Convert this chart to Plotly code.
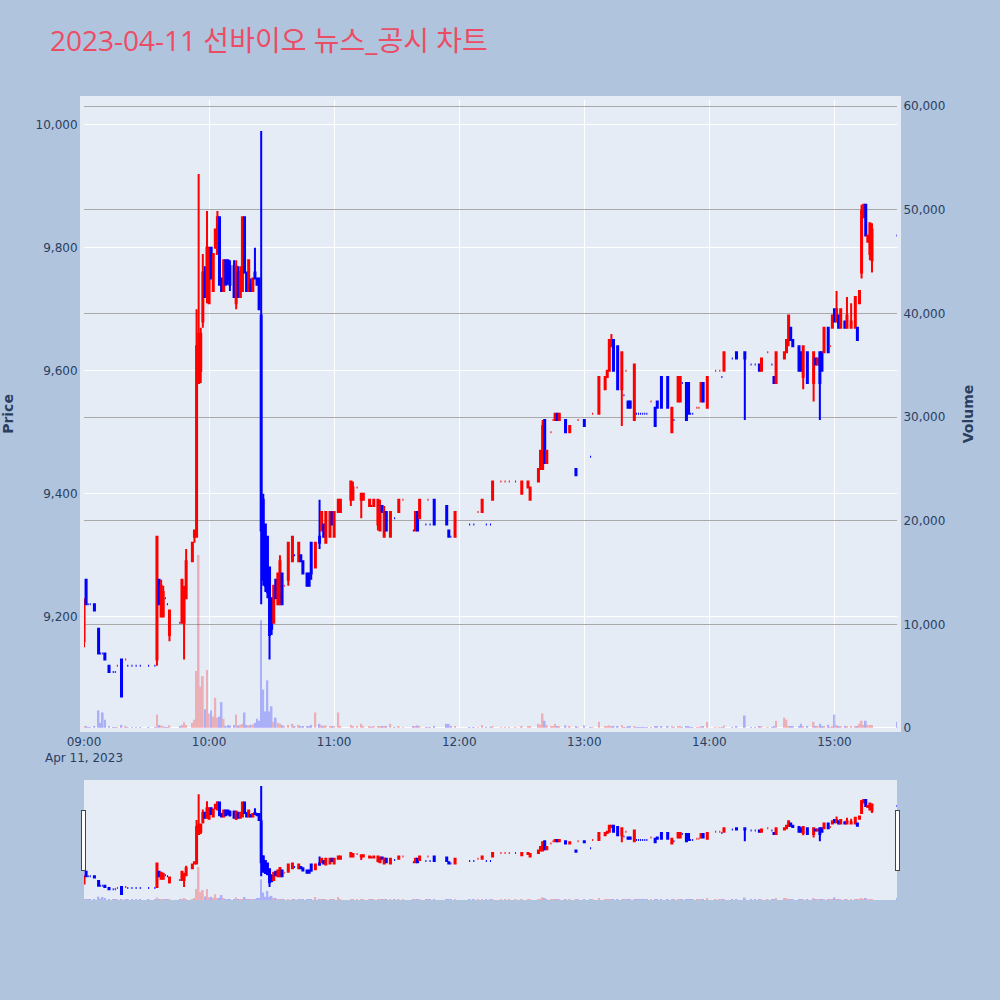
import plotly.graph_objects as go
from plotly.subplots import make_subplots

DATE = "2023-04-11"
TITLE = "2023-04-11 선바이오 뉴스_공시 차트"

times = [
    "09:00", "09:01", "09:02", "09:03", "09:05", "09:07", "09:08", "09:09", "09:10", "09:12",
    "09:14", "09:15", "09:16", "09:18", "09:20", "09:21", "09:23", "09:25", "09:27", "09:31",
    "09:34", "09:35", "09:36", "09:37", "09:38", "09:39", "09:40", "09:41", "09:46", "09:47",
    "09:48", "09:49", "09:52", "09:53", "09:54", "09:55", "09:56", "09:57", "09:58", "09:59",
    "10:00", "10:01", "10:02", "10:03", "10:04", "10:05", "10:06", "10:07", "10:08", "10:09",
    "10:10", "10:12", "10:13", "10:14", "10:15", "10:16", "10:17", "10:18", "10:19", "10:20",
    "10:21", "10:22", "10:23", "10:24", "10:25", "10:26", "10:27", "10:28", "10:29", "10:30",
    "10:31", "10:32", "10:33", "10:34", "10:35", "10:36", "10:38", "10:40", "10:41", "10:43",
    "10:44", "10:45", "10:47", "10:48", "10:49", "10:51", "10:53", "10:54", "10:55", "10:56",
    "10:58", "10:59", "11:00", "11:02", "11:03", "11:08", "11:09", "11:11", "11:13", "11:14",
    "11:17", "11:18", "11:19", "11:21", "11:22", "11:23", "11:24", "11:25", "11:27", "11:29",
    "11:31", "11:33", "11:38", "11:39", "11:40", "11:41", "11:44", "11:45", "11:46", "11:48",
    "11:54", "11:55", "11:56", "11:58", "12:05", "12:07", "12:09", "12:11", "12:13", "12:15",
    "12:16", "12:20", "12:22", "12:24", "12:27", "12:30", "12:33", "12:34", "12:38", "12:39",
    "12:40", "12:41", "12:42", "12:44", "12:45", "12:46", "12:47", "12:48", "12:51", "12:53",
    "12:56", "12:57", "13:00", "13:03", "13:04", "13:07", "13:10", "13:11", "13:12", "13:13",
    "13:14", "13:16", "13:18", "13:19", "13:20", "13:21", "13:22", "13:24", "13:25", "13:26",
    "13:27", "13:28", "13:29", "13:30", "13:32", "13:34", "13:35", "13:37", "13:40", "13:42",
    "13:43", "13:45", "13:46", "13:47", "13:49", "13:50", "13:51", "13:52", "13:54", "13:55",
    "13:56", "13:57", "13:59", "14:03", "14:05", "14:06", "14:07", "14:11", "14:13", "14:17",
    "14:20", "14:22", "14:24", "14:25", "14:28", "14:30", "14:31", "14:32", "14:36", "14:37",
    "14:38", "14:39", "14:40", "14:43", "14:44", "14:45", "14:47", "14:50", "14:51", "14:52",
    "14:53", "14:54", "14:55", "14:57", "14:58", "14:59", "15:00", "15:01", "15:02", "15:03",
    "15:05", "15:06", "15:08", "15:10", "15:11", "15:12", "15:13", "15:14", "15:15", "15:16",
    "15:17", "15:18", "15:30",
]

opens = [
    9160, 9260, 9220, 9220, 9220, 9180, 9140, 9140, 9140, 9120,
    9110, 9110, 9120, 9130, 9130, 9120, 9120, 9120, 9120, 9120,
    9120, 9130, 9260, 9200, 9200, 9230, 9220, 9170, 9190, 9190,
    9190, 9230, 9290, 9330, 9330, 9580, 9600, 9680, 9760, 9720,
    9710, 9800, 9730, 9800, 9790, 9850, 9750, 9730, 9780, 9780,
    9770, 9770, 9710, 9760, 9720, 9730, 9850, 9760, 9730, 9740,
    9730, 9760, 9750, 9750, 9690, 9390, 9350, 9330, 9280, 9230,
    9190, 9260, 9220, 9220, 9270, 9250, 9260, 9290, 9300, 9290,
    9300, 9290, 9270, 9270, 9320, 9280, 9330, 9340, 9350, 9320,
    9330, 9370, 9330, 9370, 9370, 9390, 9390, 9410, 9390, 9390,
    9380, 9380, 9380, 9350, 9340, 9380, 9330, 9370, 9330, 9360,
    9370, 9390, 9340, 9340, 9370, 9360, 9350, 9390, 9350, 9390,
    9380, 9340, 9330, 9330, 9350, 9350, 9370, 9370, 9350, 9350,
    9390, 9420, 9420, 9420, 9420, 9400, 9410, 9390, 9420, 9440,
    9440, 9520, 9450, 9500, 9520, 9520, 9530, 9520, 9520, 9500,
    9440, 9520, 9520, 9460, 9530, 9530, 9570, 9590, 9600, 9640,
    9650, 9640, 9570, 9560, 9600, 9550, 9550, 9520, 9530, 9530,
    9530, 9530, 9530, 9530, 9550, 9540, 9550, 9590, 9590, 9500,
    9520, 9550, 9550, 9580, 9580, 9580, 9530, 9530, 9540, 9540,
    9550, 9580, 9540, 9600, 9600, 9590, 9600, 9620, 9630, 9630,
    9610, 9610, 9610, 9600, 9630, 9610, 9590, 9580, 9620, 9630,
    9650, 9670, 9650, 9640, 9630, 9590, 9630, 9580, 9620, 9610,
    9630, 9630, 9630, 9670, 9640, 9670, 9700, 9680, 9690, 9670,
    9680, 9670, 9670, 9670, 9670, 9710, 9760, 9850, 9870, 9810,
    9790, 9780, 9820,
]

highs = [
    9230, 9260, 9220, 9220, 9220, 9180, 9140, 9140, 9140, 9120,
    9110, 9110, 9120, 9130, 9130, 9120, 9120, 9120, 9120, 9120,
    9120, 9330, 9260, 9260, 9250, 9230, 9220, 9210, 9190, 9260,
    9250, 9310, 9320, 9340, 9700, 9920, 9670, 9790, 9770, 9860,
    9800, 9800, 9790, 9830, 9860, 9850, 9750, 9780, 9780, 9780,
    9780, 9780, 9780, 9770, 9770, 9850, 9850, 9760, 9780, 9750,
    9750, 9800, 9750, 9750, 9990, 9400, 9350, 9330, 9280, 9230,
    9250, 9260, 9270, 9300, 9270, 9250, 9320, 9330, 9300, 9320,
    9300, 9290, 9270, 9270, 9320, 9320, 9390, 9370, 9350, 9370,
    9370, 9370, 9370, 9390, 9390, 9420, 9420, 9410, 9400, 9400,
    9390, 9380, 9390, 9390, 9390, 9380, 9380, 9370, 9370, 9360,
    9390, 9390, 9340, 9370, 9370, 9390, 9350, 9390, 9350, 9390,
    9380, 9340, 9330, 9370, 9350, 9350, 9370, 9390, 9350, 9350,
    9420, 9420, 9420, 9420, 9420, 9420, 9420, 9410, 9440, 9470,
    9520, 9520, 9470, 9500, 9520, 9530, 9530, 9530, 9520, 9510,
    9440, 9520, 9520, 9460, 9530, 9590, 9590, 9600, 9650, 9660,
    9650, 9640, 9630, 9560, 9600, 9550, 9550, 9610, 9530, 9530,
    9530, 9530, 9530, 9530, 9550, 9540, 9550, 9590, 9590, 9540,
    9520, 9590, 9590, 9580, 9580, 9580, 9530, 9530, 9540, 9540,
    9580, 9580, 9590, 9600, 9600, 9590, 9630, 9620, 9630, 9630,
    9610, 9610, 9610, 9620, 9630, 9610, 9590, 9630, 9630, 9650,
    9690, 9670, 9650, 9640, 9630, 9640, 9630, 9630, 9620, 9620,
    9630, 9630, 9670, 9670, 9640, 9690, 9700, 9730, 9690, 9700,
    9680, 9720, 9710, 9720, 9670, 9730, 9870, 9870, 9870, 9820,
    9840, 9840, 9820,
]

lows = [
    9150, 9220, 9220, 9220, 9210, 9140, 9140, 9140, 9130, 9110,
    9110, 9110, 9120, 9070, 9130, 9120, 9120, 9120, 9120, 9120,
    9120, 9120, 9220, 9200, 9200, 9230, 9220, 9160, 9190, 9190,
    9130, 9230, 9290, 9320, 9330, 9580, 9580, 9670, 9720, 9710,
    9710, 9750, 9730, 9800, 9790, 9740, 9730, 9730, 9740, 9740,
    9730, 9720, 9700, 9720, 9720, 9730, 9760, 9730, 9730, 9730,
    9730, 9750, 9740, 9700, 9220, 9250, 9240, 9230, 9130, 9170,
    9190, 9230, 9220, 9220, 9220, 9250, 9250, 9290, 9300, 9290,
    9290, 9270, 9250, 9250, 9260, 9280, 9310, 9340, 9330, 9320,
    9330, 9350, 9330, 9370, 9370, 9380, 9390, 9410, 9360, 9390,
    9380, 9380, 9380, 9340, 9340, 9370, 9330, 9340, 9330, 9360,
    9370, 9390, 9340, 9340, 9340, 9360, 9350, 9390, 9350, 9350,
    9350, 9330, 9330, 9330, 9350, 9350, 9370, 9370, 9350, 9350,
    9390, 9420, 9420, 9420, 9420, 9400, 9410, 9390, 9420, 9440,
    9440, 9450, 9450, 9500, 9520, 9520, 9520, 9520, 9500, 9500,
    9430, 9520, 9510, 9460, 9530, 9530, 9570, 9590, 9600, 9640,
    9600, 9570, 9510, 9560, 9600, 9540, 9540, 9520, 9530, 9530,
    9530, 9530, 9530, 9530, 9550, 9510, 9540, 9540, 9540, 9500,
    9520, 9550, 9550, 9580, 9520, 9530, 9530, 9530, 9540, 9540,
    9550, 9550, 9540, 9600, 9600, 9590, 9600, 9620, 9620, 9520,
    9610, 9610, 9600, 9600, 9630, 9610, 9580, 9580, 9620, 9630,
    9640, 9650, 9640, 9600, 9600, 9570, 9580, 9550, 9610, 9610,
    9520, 9600, 9630, 9630, 9640, 9670, 9680, 9680, 9670, 9670,
    9670, 9670, 9670, 9670, 9650, 9710, 9750, 9850, 9820, 9810,
    9780, 9760, 9820,
]

closes = [
    9220, 9220, 9220, 9220, 9210, 9140, 9140, 9140, 9130, 9110,
    9110, 9110, 9120, 9070, 9130, 9120, 9120, 9120, 9120, 9120,
    9120, 9330, 9220, 9250, 9240, 9230, 9220, 9210, 9190, 9260,
    9240, 9290, 9320, 9340, 9640, 9660, 9660, 9760, 9720, 9800,
    9800, 9750, 9790, 9830, 9850, 9740, 9730, 9780, 9740, 9750,
    9740, 9720, 9770, 9720, 9760, 9850, 9760, 9730, 9780, 9730,
    9750, 9750, 9740, 9700, 9340, 9260, 9250, 9240, 9170, 9180,
    9250, 9230, 9270, 9290, 9220, 9250, 9320, 9330, 9300, 9320,
    9290, 9270, 9250, 9250, 9270, 9320, 9320, 9370, 9330, 9370,
    9370, 9350, 9370, 9390, 9390, 9420, 9410, 9410, 9400, 9400,
    9390, 9380, 9390, 9390, 9380, 9370, 9370, 9340, 9370, 9360,
    9390, 9390, 9340, 9370, 9340, 9390, 9350, 9390, 9350, 9350,
    9350, 9330, 9330, 9370, 9350, 9350, 9370, 9390, 9350, 9350,
    9420, 9420, 9420, 9420, 9420, 9420, 9420, 9410, 9440, 9470,
    9510, 9450, 9470, 9500, 9520, 9530, 9520, 9530, 9500, 9510,
    9430, 9520, 9510, 9460, 9530, 9590, 9590, 9600, 9650, 9650,
    9600, 9570, 9630, 9560, 9600, 9540, 9540, 9610, 9530, 9530,
    9530, 9530, 9530, 9530, 9550, 9510, 9540, 9540, 9540, 9540,
    9520, 9590, 9590, 9580, 9520, 9530, 9530, 9530, 9540, 9540,
    9580, 9550, 9590, 9600, 9600, 9590, 9630, 9620, 9620, 9620,
    9610, 9610, 9600, 9620, 9630, 9610, 9580, 9630, 9630, 9650,
    9690, 9650, 9640, 9600, 9600, 9640, 9580, 9630, 9610, 9620,
    9580, 9600, 9670, 9630, 9640, 9690, 9680, 9700, 9670, 9700,
    9670, 9690, 9680, 9720, 9650, 9730, 9860, 9870, 9820, 9820,
    9840, 9830, 9820,
]

volumes = [
    200, 150, 80, 80, 120, 1700, 500, 1500, 800, 200,
    80, 80, 60, 300, 100, 50, 50, 50, 50, 80,
    60, 1300, 300, 250, 200, 50, 50, 250, 100, 300,
    550, 300, 500, 800, 5500, 16700, 4000, 5000, 1800, 5600,
    1400, 1700, 1100, 2900, 1000, 1100, 2500, 900, 200, 300,
    250, 300, 1300, 250, 300, 400, 1500, 300, 250, 300,
    350, 500, 900, 700, 10400, 3700, 1600, 4600, 1600, 2100,
    600, 1000, 500, 400, 300, 200, 300, 400, 150, 300,
    150, 150, 200, 200, 300, 1500, 400, 250, 200, 250,
    200, 150, 200, 1500, 200, 300, 200, 100, 400, 150,
    150, 80, 150, 200, 200, 150, 200, 200, 400, 80,
    150, 80, 100, 150, 250, 150, 80, 80, 80, 200,
    400, 400, 100, 150, 80, 80, 80, 300, 80, 80,
    150, 60, 60, 60, 60, 150, 100, 150, 400, 300,
    1400, 700, 300, 100, 100, 400, 150, 100, 250, 100,
    150, 80, 250, 80, 80, 600, 150, 150, 250, 150,
    150, 150, 300, 80, 80, 100, 100, 150, 60, 60,
    60, 60, 60, 60, 60, 100, 100, 100, 100, 100,
    60, 100, 100, 60, 100, 100, 60, 60, 60, 60,
    100, 100, 600, 60, 60, 60, 250, 60, 100, 1200,
    60, 60, 100, 100, 60, 60, 100, 700, 1000, 800,
    150, 100, 100, 150, 400, 100, 150, 600, 100, 100,
    400, 150, 150, 300, 60, 150, 1300, 300, 100, 100,
    100, 150, 150, 150, 150, 400, 700, 300, 700, 300,
    300, 300, 600,
]

n = len(times)
assert all(len(a) == n for a in (opens, highs, lows, closes, volumes))

x = [f"{DATE} {t}" for t in times]

# bar colour follows candle direction (flat candles follow the change vs previous close)
vol_colors = []
prev_c, prev_up = None, False
for o, c in zip(opens, closes):
    if c > o:
        up = True
    elif c < o:
        up = False
    elif prev_c is None or c == prev_c:
        up = prev_up
    else:
        up = c > prev_c
    vol_colors.append("red" if up else "blue")
    prev_c, prev_up = c, up

fig = make_subplots(specs=[[{"secondary_y": True}]])

fig.add_trace(
    go.Candlestick(
        x=x, open=opens, high=highs, low=lows, close=closes,
        increasing=dict(line=dict(color="red"), fillcolor="red"),
        decreasing=dict(line=dict(color="blue"), fillcolor="blue"),
        name="Price", showlegend=False,
    ),
    secondary_y=False,
)
fig.add_trace(
    go.Bar(x=x, y=volumes, marker=dict(color=vol_colors, line=dict(width=0)),
           opacity=0.25, name="Volume", showlegend=False),
    secondary_y=True,
)

PLOT_BG = "#E5ECF6"
tick_font = "DejaVu Sans, Noto Sans CJK KR, sans-serif"
title_font = "Open Sans, Noto Sans CJK KR, sans-serif"
fig.update_layout(
    width=1000, height=1000,
    paper_bgcolor="lightsteelblue",
    plot_bgcolor=PLOT_BG,
    font=dict(family=tick_font, size=12, color="#2a3f5f"),
    title=dict(text=TITLE, x=0.05, xanchor="left", y=0.959, yanchor="middle",
               font=dict(size=28, color="#EB4D65", family=title_font)),
    margin=dict(l=84, r=103, t=100, b=100),
    showlegend=False,
    bargap=0.2,
)
fig.update_xaxes(
    domain=[0, 1],
    range=[f"{DATE} 09:00", f"{DATE} 15:30"],
    rangeslider=dict(visible=True, thickness=0.15, bgcolor=PLOT_BG,
                     range=[f"{DATE} 09:00", f"{DATE} 15:30"]),
    gridcolor="white",
    showline=True, linewidth=4, linecolor=PLOT_BG, mirror=True,
)
fig.update_yaxes(
    range=[9018.7, 10040.6], tickformat=",", gridcolor="white", automargin=False,
    showline=True, linewidth=4, linecolor=PLOT_BG,
    title=dict(text="Price", font=dict(size=14, weight="bold"), standoff=20),
    secondary_y=False,
)
fig.update_yaxes(
    range=[0, 60600], tickformat=",", gridcolor="darkgray", showgrid=True,
    automargin=False,
    showline=True, linewidth=4, linecolor=PLOT_BG,
    title=dict(text="Volume", font=dict(size=14, weight="bold"), standoff=20),
    secondary_y=True,
)

fig.write_html("out.html", config={"displayModeBar": False},
               post_script="document.body.style.margin='0px';")
